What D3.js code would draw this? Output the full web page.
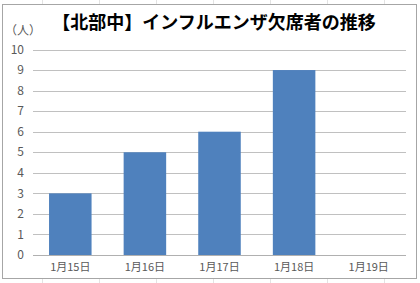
<!DOCTYPE html>
<html>
<head>
<meta charset="utf-8">
<script src="https://cdn.jsdelivr.net/npm/d3@7"></script>
<style>
  html, body { margin: 0; padding: 0; background: #fff; }
  svg { display: block; }
</style>
</head>
<body>
<svg id="chart" width="420" height="283"></svg>
<script>
const dates = ['1月15日', '1月16日', '1月17日', '1月18日', '1月19日'];
const absent = [3, 5, 6, 9, null];
const yTicks = [0, 1, 2, 3, 4, 5, 6, 7, 8, 9, 10];
const title = '【北部中】インフルエンザ欠席者の推移';
const unit = '（人）';

const width = 420, height = 283;
const plot = { left: 33, right: 406, top: 49.5, bottom: 255 };
const font = '"Noto Sans CJK JP", "Noto Sans", sans-serif';

const svg = d3.select('#chart');

// faint sheet gridlines behind the chart box
const sheet = svg.append('g').attr('stroke', '#e3e3e3').attr('stroke-width', 1);
d3.range(42.5, width, 57).forEach((x) => {
    sheet.append('line').attr('x1', x).attr('x2', x).attr('y1', 0).attr('y2', height);
});

// chart box
svg.append('rect')
    .attr('x', 2.5).attr('y', 4.5)
    .attr('width', 414).attr('height', 274)
    .attr('fill', '#fff')
    .attr('stroke', '#a6a6a6');

const x = d3.scaleBand()
    .domain(dates)
    .range([plot.left, plot.right])
    .paddingInner(0.43)
    .paddingOuter(0.215);

const y = d3.scaleLinear()
    .domain([0, 10])
    .range([plot.bottom, plot.top]);

// horizontal gridlines
svg.append('g')
    .selectAll('line')
    .data(yTicks)
    .enter()
    .append('line')
    .attr('x1', plot.left)
    .attr('x2', plot.right)
    .attr('y1', (d) => Math.round(y(d)) + 0.5)
    .attr('y2', (d) => Math.round(y(d)) + 0.5)
    .attr('stroke', (d) => d === 0 ? '#b0b0b0' : '#c0c0c0')
    .attr('stroke-width', 1);

// bars
svg.append('g')
    .selectAll('rect')
    .data(dates.map((d, i) => ({ date: d, value: absent[i] })).filter((d) => d.value != null))
    .enter()
    .append('rect')
    .attr('x', (d) => x(d.date))
    .attr('width', x.bandwidth())
    .attr('y', (d) => y(d.value))
    .attr('height', (d) => y(0) - y(d.value))
    .attr('fill', '#4f81bd');

// y tick labels
svg.append('g')
    .selectAll('text')
    .data(yTicks)
    .enter()
    .append('text')
    .attr('x', 24)
    .attr('y', (d) => y(d))
    .attr('dy', '0.35em')
    .attr('text-anchor', 'end')
    .attr('font-family', font)
    .attr('font-size', 12)
    .attr('fill', '#595959')
    .text((d) => d);

// x labels
svg.append('g')
    .selectAll('text')
    .data(dates)
    .enter()
    .append('text')
    .attr('x', (d) => x(d) + x.bandwidth() / 2)
    .attr('y', 267)
    .attr('dy', '0.35em')
    .attr('text-anchor', 'middle')
    .attr('font-family', font)
    .attr('font-size', 11)
    .attr('fill', '#595959')
    .text((d) => d);

// unit label
svg.append('text')
    .attr('x', 5)
    .attr('y', 31)
    .attr('dy', '0.35em')
    .attr('font-family', font)
    .attr('font-size', 12)
    .attr('fill', '#595959')
    .text(unit);

// title
svg.append('text')
    .attr('x', 214)
    .attr('y', 23)
    .attr('dy', '0.35em')
    .attr('text-anchor', 'middle')
    .attr('font-family', font)
    .attr('font-size', 18)
    .attr('font-weight', 'bold')
    .attr('fill', '#000')
    .text(title);
</script>
</body>
</html>
